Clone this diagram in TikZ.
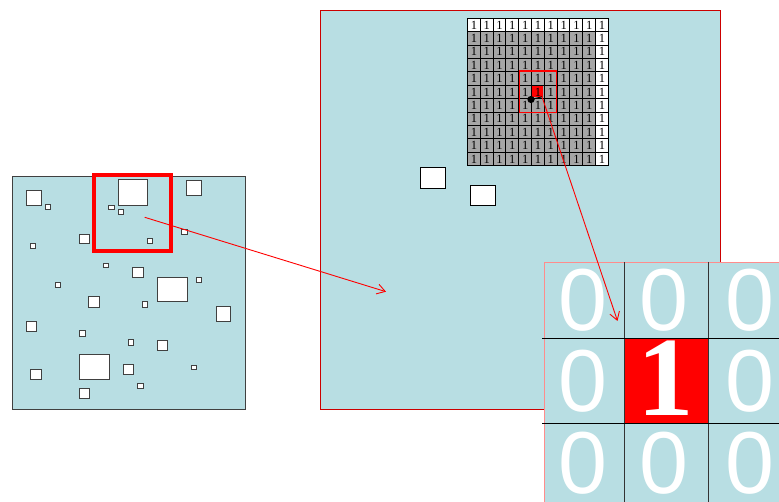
\documentclass[tikz,border=0pt]{standalone}
\usepackage{fontspec}
\setmainfont{Liberation Serif}
\newfontfamily\zerofont{Liberation Sans}
\usetikzlibrary{arrows.meta}
\definecolor{sea}{RGB}{184,222,227}
\definecolor{cellgray}{RGB}{166,166,166}
\tikzset{
  hole/.style={draw=black!75, fill=white, line width=1pt},
  link/.style={red, line width=0.9pt, -{Straight Barb[length=8pt,width=10pt]}},
  one/.style={font=\fontsize{12.5}{12.5}\selectfont, inner sep=0pt},
  bigzero/.style={font=\zerofont\fontsize{88}{88}\selectfont, text=white, inner sep=0pt},
}
\begin{document}
\begin{tikzpicture}[x=1pt,y=-1pt]
  \useasboundingbox (0,0) rectangle (779,502);
  % left map
  \draw[black!75, fill=sea] (12,176) rectangle (245,409);
  \foreach \xa/\ya/\xb/\yb in {26.3/190.7/41.3/205.3, 45.3/205/50.3/209.3,
      118.3/180/147.3/205.3, 108.7/205.3/114/209.3, 118/209.3/123.3/214.7,
      186.7/180.7/201.3/195.3, 147.3/238.3/152.7/243.7, 181.3/229.3/187/234.3,
      30.3/243.7/35.7/249, 79.3/234.3/89.3/244, 103.3/263.7/108.7/267.7,
      132.7/267.3/143.3/278, 55.3/282.3/60/287.3, 157.3/277.7/187/302,
      196.3/277.7/201.3/282.3, 88.7/296.7/99.3/307.3, 142.7/302/147.3/307.3,
      216/306.7/230.7/322, 26.3/321.7/36/331.3, 79.3/331/85/336.3,
      128.3/340/133.3/345.7, 157.3/340.3/167.3/350.7, 79.3/354.3/109/380,
      30.3/369.3/41.3/380, 123.3/365/133.3/375, 191/365.3/196.3/369.3,
      137.7/383.7/143.3/389, 79.3/389/89.3/399}
    \draw[hole] (\xa,\ya) rectangle (\xb,\yb);
  \draw[red, line width=3.5pt] (94,175) rectangle (171,251);
  % enlarged area
  \draw[red!80!black, line width=0.8pt, fill=sea] (320,10) rectangle (720,409);
  \draw[black, fill=white, line width=0.8pt] (420,167.7) rectangle (445.7,188.7);
  \draw[black, fill=white, line width=0.8pt] (470.3,185) rectangle (495.3,205.3);
  % cell grid
  \fill[cellgray] (467.3,18.3) rectangle (608.3,165.7);
  \fill[white] (467.3,18.3) rectangle (608.3,31.7);
  \fill[white] (595.5,18.3) rectangle (608.3,165.7);
  \fill[red] (531.5,86.5) rectangle (542.5,97.5);
  \foreach \i in {0,...,11}
    \draw[line width=0.8pt] (467.3+12.818*\i,18.3) -- ++(0,147.4);
  \foreach \j in {0,...,11}
    \draw[line width=0.8pt] (467.3,18.3+13.4*\j) -- ++(141,0);
  \foreach \i in {0,...,10}
    \foreach \j in {0,...,10}
      \node[one] (g-\i-\j) at (473.9+12.818*\i, 25+13.4*\j) {1};
  \draw[red, line width=1.4pt] (519.3,71) rectangle (556.7,112.7);
  \fill (531,99.5) coordinate (dot) circle (3.6);
  \coordinate (cellc) at (542,96.8);
  \draw[line width=1pt] (dot) -- (cellc);
  % zoomed neighbourhood
  \begin{scope}
    \clip (0,0) rectangle (779,502);
    \draw[red!45, line width=0.9pt, fill=sea] (544,262) rectangle (790,515);
    \fill[red] (624.7,339) rectangle (708.7,423.3);
    \draw[black!80, line width=1pt] (624.7,262) -- (624.7,502)
      (708.7,262) -- (708.7,502);
    \draw[black, line width=1pt] (542,339) -- (779,339) (542,423.3) -- (779,423.3);
    \foreach \c/\cx in {0/583.3,1/664,2/750}
      \foreach \r/\cy in {0/300,1/381.5,2/463.5} {
        \ifnum\c\r=11\relax\else
          \node[bigzero] (z-\c-\r) at (\cx,\cy) {0};
        \fi
      }
    \node[font=\bfseries\fontsize{113}{113}\selectfont, text=white, inner sep=0pt]
      (z-1-1) at (665.8,378.3) {1};
  \end{scope}
  % arrows
  \coordinate (mapc) at (144.7,217.3);
  \coordinate (zoomin) at (386,291.7);
  \coordinate (nbhd) at (617.5,321);
  \draw[link] (mapc) -- (zoomin);
  \draw[link] (cellc) -- (nbhd);
\end{tikzpicture}
\end{document}
